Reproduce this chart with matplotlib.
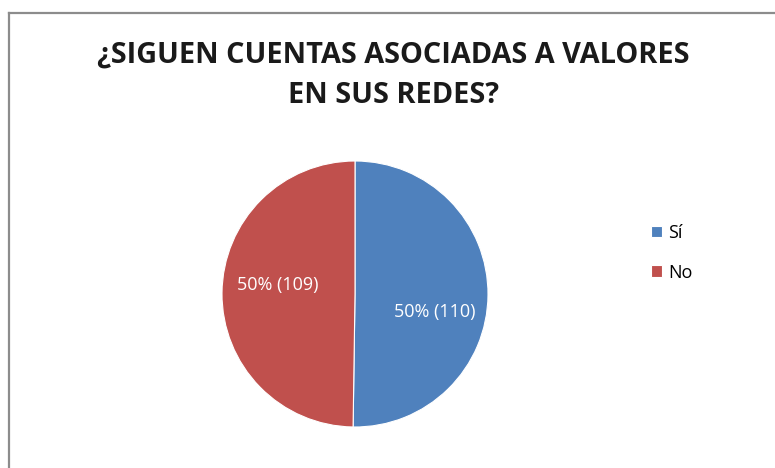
import matplotlib.pyplot as plt
from matplotlib.lines import Line2D

# survey answers
title_lines = ["¿SIGUEN CUENTAS ASOCIADAS A VALORES", "EN SUS REDES?"]
answers = ["Sí", "No"]
counts = [110, 109]
colors = ["#4F81BD", "#C0504D"]

plt.rcParams['font.family'] = ['Open Sans', 'DejaVu Sans']

W, H = 775, 468
fig = plt.figure(figsize=(W / 100, H / 100), dpi=100)
fig.patch.set_facecolor('white')

# chart frame (only left and top edges fall inside the image)
frame_x = 8.5 / W
frame_y = 1 - 12.5 / H
fig.add_artist(Line2D([frame_x, frame_x], [0, frame_y], color='#8c8c8c', lw=1.6))
fig.add_artist(Line2D([frame_x, 1], [frame_y, frame_y], color='#8c8c8c', lw=1.6))

for i, line in enumerate(title_lines):
    fig.text(393.5 / W, 1 - (52 + 40 * i) / H, line, ha='center', va='center_baseline',
             fontsize=20.8, fontweight='bold', color='#1a1a1a')

# pie centred at (355, 294) px with a 133 px radius
ax = fig.add_axes([222 / W, (H - 294 - 133) / H, 266 / W, 266 / H])
wedges, _ = ax.pie(counts, colors=colors, startangle=90, counterclock=False,
                   radius=1.0, wedgeprops=dict(linewidth=0.8, edgecolor='white'))
ax.set_xlim(-1, 1)
ax.set_ylim(-1, 1)
ax.set_aspect('equal')
ax.axis('off')

total = sum(counts)
label_pos = [(0.60, -0.12), (-0.58, 0.08)]
for (x, y), n in zip(label_pos, counts):
    ax.text(x, y, f"{round(100 * n / total)}% ({n})", ha='center', va='center_baseline',
            color='white', fontsize=13)

fig.legend(wedges, answers, loc='upper left', bbox_to_anchor=(651 / W, 1 - 224 / H),
           frameon=False, handlelength=0.62, handleheight=0.62, handletextpad=0.35,
           labelspacing=1.2, fontsize=13, borderpad=0, borderaxespad=0)

fig.savefig('out.png', dpi=100)
